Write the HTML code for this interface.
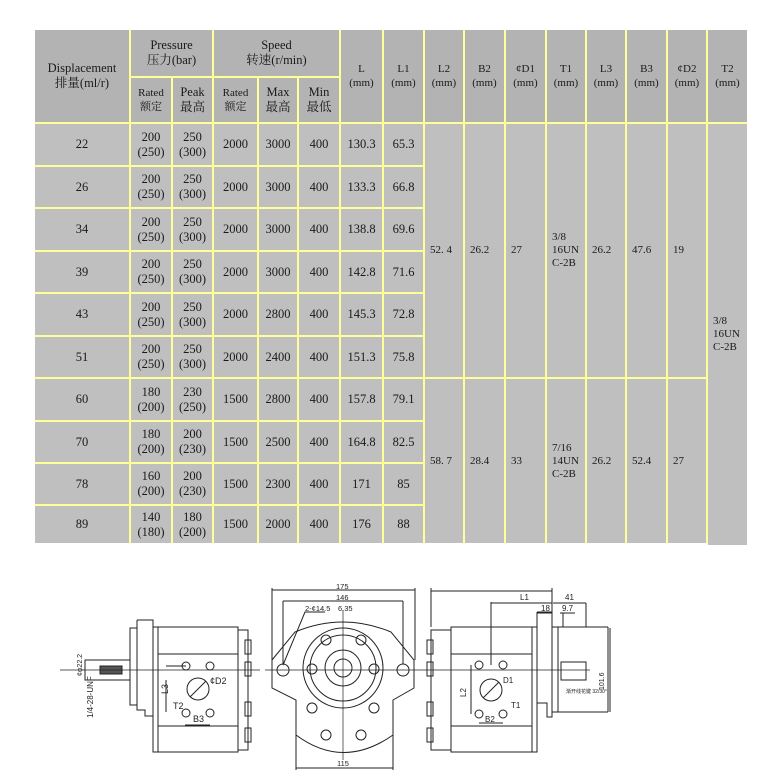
<!DOCTYPE html>
<html><head><meta charset="utf-8">
<style>
body{margin:0;width:773px;height:783px;background:#fff;position:relative;overflow:hidden;font-family:"Liberation Serif","Noto Serif CJK SC",serif;color:#1a1a1a}
#tb{position:absolute;left:35px;top:30px;width:712px;height:513px;background:#ffff99}
.c{position:absolute;display:flex;align-items:center;justify-content:center;text-align:center;font-size:12.5px;line-height:15px;background:#bfbfbf}
.h{background:#b3b3b3}
.s{font-size:11px;line-height:14px}
.l{justify-content:flex-start;text-align:left;padding-left:5px;box-sizing:border-box;font-size:11px;line-height:13px}
</style></head><body>
<div id="tb"></div>
<!-- header -->
<div class="c h" style="left:35px;top:30px;width:94px;height:92px">Displacement<br>排量(ml/r)</div>
<div class="c h" style="left:131px;top:30px;width:81px;height:46px">Pressure<br>压力(bar)</div>
<div class="c h" style="left:214px;top:30px;width:125px;height:46px">Speed<br>转速(r/min)</div>
<div class="c h s" style="left:131px;top:78px;width:40px;height:44px">Rated<br>额定</div>
<div class="c h" style="left:173px;top:78px;width:39px;height:44px">Peak<br>最高</div>
<div class="c h s" style="left:214px;top:78px;width:43px;height:44px">Rated<br>额定</div>
<div class="c h" style="left:259px;top:78px;width:38px;height:44px">Max<br>最高</div>
<div class="c h" style="left:299px;top:78px;width:40px;height:44px">Min<br>最低</div>
<div class="c h s" style="left:341px;top:30px;width:41px;height:92px">L<br>(mm)</div>
<div class="c h s" style="left:384px;top:30px;width:39px;height:92px">L1<br>(mm)</div>
<div class="c h s" style="left:425px;top:30px;width:38px;height:92px">L2<br>(mm)</div>
<div class="c h s" style="left:465px;top:30px;width:39px;height:92px">B2<br>(mm)</div>
<div class="c h s" style="left:506px;top:30px;width:39px;height:92px">¢D1<br>(mm)</div>
<div class="c h s" style="left:547px;top:30px;width:38px;height:92px">T1<br>(mm)</div>
<div class="c h s" style="left:587px;top:30px;width:38px;height:92px">L3<br>(mm)</div>
<div class="c h s" style="left:627px;top:30px;width:39px;height:92px">B3<br>(mm)</div>
<div class="c h s" style="left:668px;top:30px;width:38px;height:92px">¢D2<br>(mm)</div>
<div class="c h s" style="left:708px;top:30px;width:39px;height:92px">T2<br>(mm)</div>

<!-- rows: tops 124,167,209,252,294,337,379,422,464,506 -->
<div class="c" style="left:35px;top:124px;width:94px;height:41px">22</div><div class="c" style="left:131px;top:124px;width:40px;height:41px">200<br>(250)</div><div class="c" style="left:173px;top:124px;width:39px;height:41px">250<br>(300)</div><div class="c" style="left:214px;top:124px;width:43px;height:41px">2000</div><div class="c" style="left:259px;top:124px;width:38px;height:41px">3000</div><div class="c" style="left:299px;top:124px;width:40px;height:41px">400</div><div class="c" style="left:341px;top:124px;width:41px;height:41px">130.3</div><div class="c" style="left:384px;top:124px;width:39px;height:41px">65.3</div>
<div class="c" style="left:35px;top:167px;width:94px;height:40px">26</div><div class="c" style="left:131px;top:167px;width:40px;height:40px">200<br>(250)</div><div class="c" style="left:173px;top:167px;width:39px;height:40px">250<br>(300)</div><div class="c" style="left:214px;top:167px;width:43px;height:40px">2000</div><div class="c" style="left:259px;top:167px;width:38px;height:40px">3000</div><div class="c" style="left:299px;top:167px;width:40px;height:40px">400</div><div class="c" style="left:341px;top:167px;width:41px;height:40px">133.3</div><div class="c" style="left:384px;top:167px;width:39px;height:40px">66.8</div>
<div class="c" style="left:35px;top:209px;width:94px;height:41px">34</div><div class="c" style="left:131px;top:209px;width:40px;height:41px">200<br>(250)</div><div class="c" style="left:173px;top:209px;width:39px;height:41px">250<br>(300)</div><div class="c" style="left:214px;top:209px;width:43px;height:41px">2000</div><div class="c" style="left:259px;top:209px;width:38px;height:41px">3000</div><div class="c" style="left:299px;top:209px;width:40px;height:41px">400</div><div class="c" style="left:341px;top:209px;width:41px;height:41px">138.8</div><div class="c" style="left:384px;top:209px;width:39px;height:41px">69.6</div>
<div class="c" style="left:35px;top:252px;width:94px;height:40px">39</div><div class="c" style="left:131px;top:252px;width:40px;height:40px">200<br>(250)</div><div class="c" style="left:173px;top:252px;width:39px;height:40px">250<br>(300)</div><div class="c" style="left:214px;top:252px;width:43px;height:40px">2000</div><div class="c" style="left:259px;top:252px;width:38px;height:40px">3000</div><div class="c" style="left:299px;top:252px;width:40px;height:40px">400</div><div class="c" style="left:341px;top:252px;width:41px;height:40px">142.8</div><div class="c" style="left:384px;top:252px;width:39px;height:40px">71.6</div>
<div class="c" style="left:35px;top:294px;width:94px;height:41px">43</div><div class="c" style="left:131px;top:294px;width:40px;height:41px">200<br>(250)</div><div class="c" style="left:173px;top:294px;width:39px;height:41px">250<br>(300)</div><div class="c" style="left:214px;top:294px;width:43px;height:41px">2000</div><div class="c" style="left:259px;top:294px;width:38px;height:41px">2800</div><div class="c" style="left:299px;top:294px;width:40px;height:41px">400</div><div class="c" style="left:341px;top:294px;width:41px;height:41px">145.3</div><div class="c" style="left:384px;top:294px;width:39px;height:41px">72.8</div>
<div class="c" style="left:35px;top:337px;width:94px;height:40px">51</div><div class="c" style="left:131px;top:337px;width:40px;height:40px">200<br>(250)</div><div class="c" style="left:173px;top:337px;width:39px;height:40px">250<br>(300)</div><div class="c" style="left:214px;top:337px;width:43px;height:40px">2000</div><div class="c" style="left:259px;top:337px;width:38px;height:40px">2400</div><div class="c" style="left:299px;top:337px;width:40px;height:40px">400</div><div class="c" style="left:341px;top:337px;width:41px;height:40px">151.3</div><div class="c" style="left:384px;top:337px;width:39px;height:40px">75.8</div>
<div class="c" style="left:35px;top:379px;width:94px;height:41px">60</div><div class="c" style="left:131px;top:379px;width:40px;height:41px">180<br>(200)</div><div class="c" style="left:173px;top:379px;width:39px;height:41px">230<br>(250)</div><div class="c" style="left:214px;top:379px;width:43px;height:41px">1500</div><div class="c" style="left:259px;top:379px;width:38px;height:41px">2800</div><div class="c" style="left:299px;top:379px;width:40px;height:41px">400</div><div class="c" style="left:341px;top:379px;width:41px;height:41px">157.8</div><div class="c" style="left:384px;top:379px;width:39px;height:41px">79.1</div>
<div class="c" style="left:35px;top:422px;width:94px;height:40px">70</div><div class="c" style="left:131px;top:422px;width:40px;height:40px">180<br>(200)</div><div class="c" style="left:173px;top:422px;width:39px;height:40px">200<br>(230)</div><div class="c" style="left:214px;top:422px;width:43px;height:40px">1500</div><div class="c" style="left:259px;top:422px;width:38px;height:40px">2500</div><div class="c" style="left:299px;top:422px;width:40px;height:40px">400</div><div class="c" style="left:341px;top:422px;width:41px;height:40px">164.8</div><div class="c" style="left:384px;top:422px;width:39px;height:40px">82.5</div>
<div class="c" style="left:35px;top:464px;width:94px;height:40px">78</div><div class="c" style="left:131px;top:464px;width:40px;height:40px">160<br>(200)</div><div class="c" style="left:173px;top:464px;width:39px;height:40px">200<br>(230)</div><div class="c" style="left:214px;top:464px;width:43px;height:40px">1500</div><div class="c" style="left:259px;top:464px;width:38px;height:40px">2300</div><div class="c" style="left:299px;top:464px;width:40px;height:40px">400</div><div class="c" style="left:341px;top:464px;width:41px;height:40px">171</div><div class="c" style="left:384px;top:464px;width:39px;height:40px">85</div>
<div class="c" style="left:35px;top:506px;width:94px;height:37px">89</div><div class="c" style="left:131px;top:506px;width:40px;height:37px">140<br>(180)</div><div class="c" style="left:173px;top:506px;width:39px;height:37px">180<br>(200)</div><div class="c" style="left:214px;top:506px;width:43px;height:37px">1500</div><div class="c" style="left:259px;top:506px;width:38px;height:37px">2000</div><div class="c" style="left:299px;top:506px;width:40px;height:37px">400</div><div class="c" style="left:341px;top:506px;width:41px;height:37px">176</div><div class="c" style="left:384px;top:506px;width:39px;height:37px">88</div>

<!-- merged group 1 -->
<div class="c l" style="left:425px;top:124px;width:38px;height:253px">52. 4</div>
<div class="c l" style="left:465px;top:124px;width:39px;height:253px">26.2</div>
<div class="c l" style="left:506px;top:124px;width:39px;height:253px">27</div>
<div class="c l" style="left:547px;top:124px;width:38px;height:253px">3/8<br>16UN<br>C-2B</div>
<div class="c l" style="left:587px;top:124px;width:38px;height:253px">26.2</div>
<div class="c l" style="left:627px;top:124px;width:39px;height:253px">47.6</div>
<div class="c l" style="left:668px;top:124px;width:38px;height:253px">19</div>
<!-- merged group 2 -->
<div class="c l" style="left:425px;top:379px;width:38px;height:164px">58. 7</div>
<div class="c l" style="left:465px;top:379px;width:39px;height:164px">28.4</div>
<div class="c l" style="left:506px;top:379px;width:39px;height:164px">33</div>
<div class="c l" style="left:547px;top:379px;width:38px;height:164px">7/16<br>14UN<br>C-2B</div>
<div class="c l" style="left:587px;top:379px;width:38px;height:164px">26.2</div>
<div class="c l" style="left:627px;top:379px;width:39px;height:164px">52.4</div>
<div class="c l" style="left:668px;top:379px;width:38px;height:164px">27</div>
<div class="c l" style="left:708px;top:124px;width:39px;height:421px">3/8<br>16UN<br>C-2B</div>

<svg style="position:absolute;left:0;top:0" width="773" height="783" viewBox="0 0 773 783" fill="none" stroke="#222" stroke-width="1" font-family="Liberation Sans,sans-serif">
<!-- left view -->
<rect x="130" y="628" width="7" height="77"/>
<path d="M137 620 H153 V627 M137 620 V710 H145 V716 H153"/>
<rect x="153" y="627" width="85" height="125"/>
<line x1="158" y1="627" x2="158" y2="752"/>
<line x1="158" y1="654" x2="238" y2="654"/><line x1="158" y1="726" x2="238" y2="726"/>
<rect x="238" y="630" width="10" height="120"/>
<rect x="245" y="640" width="6" height="14"/><rect x="245" y="662" width="6" height="14"/><rect x="245" y="702" width="6" height="14"/><rect x="245" y="728" width="6" height="14"/>
<rect x="85" y="660" width="45" height="20"/>
<rect x="100" y="666" width="22" height="8" fill="#555"/>
<line x1="60" y1="670" x2="260" y2="670" stroke-width="0.7"/>
<line x1="166" y1="680" x2="166" y2="712"/><line x1="166" y1="666" x2="186" y2="666"/>
<circle cx="186" cy="666" r="4"/><circle cx="210" cy="666" r="4"/><circle cx="186" cy="713" r="4"/><circle cx="210" cy="713" r="4"/>
<circle cx="198" cy="689" r="11"/><line x1="190" y1="697" x2="206" y2="681"/>
<line x1="185" y1="725" x2="210" y2="725"/>
<g fill="#222" stroke="none" font-size="9"><text x="210" y="684">¢D2</text><text x="168" y="694" transform="rotate(-90 168 694)">L3</text><text x="173" y="709">T2</text><text x="193" y="722">B3</text>
<text x="93" y="718" transform="rotate(-90 93 718)" font-size="8">1/4-28-UNF</text><text x="82" y="676" transform="rotate(-90 82 676)" font-size="7">¢φ22.2</text></g>
<!-- middle view -->
<path d="M272 660 L295 632 Q343 612 391 632 L414 660 V688 L393 700 V735 Q343 770 296 735 V700 L272 688 Z"/>
<circle cx="343" cy="668" r="40"/><circle cx="343" cy="668" r="33"/><circle cx="343" cy="668" r="18"/><circle cx="343" cy="668" r="9"/>
<g><circle cx="326" cy="640" r="5"/><circle cx="361" cy="640" r="5"/><circle cx="312" cy="669" r="5"/><circle cx="374" cy="669" r="5"/><circle cx="312" cy="708" r="5"/><circle cx="374" cy="708" r="5"/><circle cx="326" cy="735" r="5"/><circle cx="361" cy="735" r="5"/>
<circle cx="283" cy="670" r="6"/><circle cx="403" cy="670" r="6"/></g>
<line x1="265" y1="670" x2="420" y2="670" stroke-width="0.7"/><line x1="343" y1="610" x2="343" y2="760" stroke-width="0.7"/>
<path d="M272 588 V660 M415 588 V660 M272 590 H415 M283 601 H403 M283 601 V664 M403 601 V664 M296 700 V770 M393 700 V770 M296 768 H393"/>
<path d="M283 665 L305 612 H325"/>
<g fill="#222" stroke="none" font-size="7.5"><text x="336" y="589">175</text><text x="336" y="600">146</text><text x="305" y="611">2-¢14.5</text><text x="338" y="611">6.35</text><text x="337" y="766">115</text></g>
<!-- right view -->
<rect x="431" y="630" width="20" height="120"/>
<rect x="427" y="640" width="6" height="14"/><rect x="427" y="662" width="6" height="14"/><rect x="427" y="702" width="6" height="14"/><rect x="427" y="728" width="6" height="14"/>
<rect x="451" y="627" width="86" height="125"/>
<line x1="451" y1="654" x2="532" y2="654"/><line x1="451" y1="726" x2="532" y2="726"/><line x1="532" y1="627" x2="532" y2="752"/>
<path d="M537 612 H552 V700 M537 612 V703 H547 V717 H552 V700"/>
<path d="M552 627 H608 M552 712 H608 M558 627 V712 M608 627 V712"/>
<rect x="561" y="662" width="25" height="18"/>
<line x1="420" y1="670" x2="590" y2="670" stroke-width="0.7"/>
<circle cx="479" cy="665" r="4"/><circle cx="503" cy="665" r="4"/><circle cx="479" cy="714" r="4"/><circle cx="503" cy="714" r="4"/>
<circle cx="491" cy="690" r="11"/><line x1="483" y1="698" x2="499" y2="682"/>
<line x1="471" y1="665" x2="471" y2="714"/><line x1="479" y1="723" x2="503" y2="723"/>
<path d="M431 588 V627 M552 588 V612 M431 591 H552 M491 602 V665 M491 603 H552 M553 603 H586 M586 603 V627 M537 613 H552 M560 613 H575 M563 613 V627 M610 628 V712"/>
<g fill="#222" stroke="none" font-size="8"><text x="520" y="600">L1</text><text x="541" y="611">18</text><text x="562" y="611">9.7</text><text x="565" y="600">41</text><text x="503" y="683">D1</text><text x="466" y="697" transform="rotate(-90 466 697)">L2</text><text x="511" y="708">T1</text><text x="485" y="722">B2</text>
<text x="604" y="690" transform="rotate(-90 604 690)" font-size="7">101.6</text><text x="566" y="693" font-size="5">渐开线花键 32/30°</text></g>
</svg>
</body></html>
